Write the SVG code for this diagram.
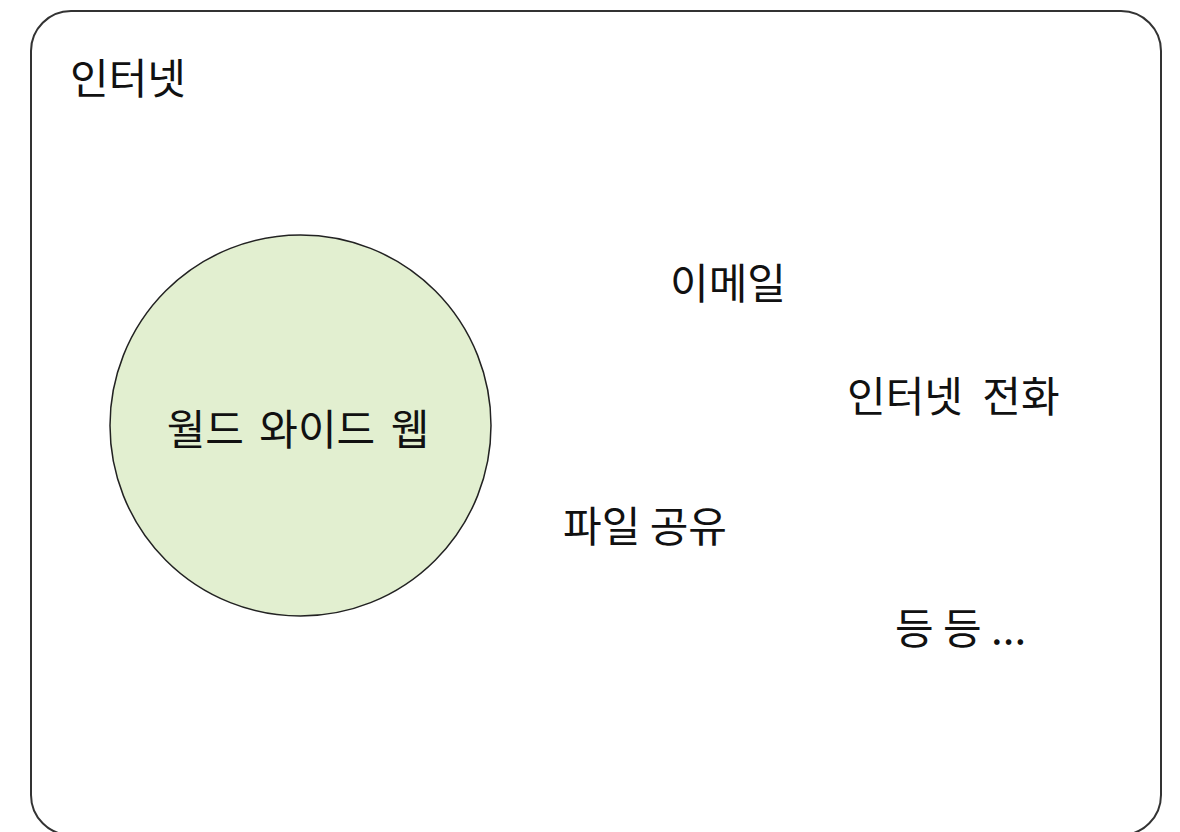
<svg xmlns="http://www.w3.org/2000/svg" width="1180" height="832" viewBox="0 0 1180 832">
<style>
.t{font-family:"Noto Sans CJK KR","Noto Sans",sans-serif;font-size:42px;fill:#111}
</style>
<rect width="1180" height="832" fill="#fff"/>
<g id="internet">
<rect x="31" y="11" width="1130" height="824" rx="40" ry="40" fill="none" stroke="#333" stroke-width="2"/>
<text class="t" x="70" y="94">인터넷</text>
</g>
<g id="www">
<circle cx="300.5" cy="425.5" r="190.5" fill="#e2efd0" stroke="#222" stroke-width="1.5"/>
<text class="t" x="298" y="445" text-anchor="middle" word-spacing="6">월드 와이드 웹</text>
</g>
<g id="email"><text class="t" x="670" y="299">이메일</text></g>
<g id="voip"><text class="t" x="847" y="412" word-spacing="10">인터넷 전화</text></g>
<g id="fileshare"><text class="t" x="563" y="542">파일 공유</text></g>
<g id="etc"><text class="t" x="895" y="644">등 등 ...</text></g>
<g id="connectors"/>
</svg>
